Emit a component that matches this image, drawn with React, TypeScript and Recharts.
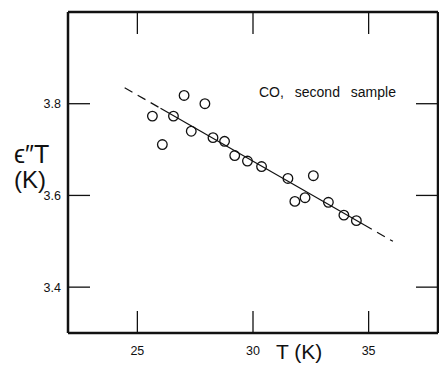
import React from "react"
import { ScatterChart, Scatter, XAxis, YAxis } from "recharts"

// measured points (T in K, eps''T in K)
const tempK = [25.65, 26.08, 26.56, 27.02, 27.33, 27.92, 28.27, 28.77, 29.21, 29.76, 30.37, 31.51, 31.81, 32.25, 32.61, 33.26, 33.93, 34.47]
const epsT = [3.773, 3.711, 3.773, 3.818, 3.74, 3.8, 3.726, 3.718, 3.687, 3.675, 3.663, 3.637, 3.587, 3.595, 3.643, 3.585, 3.557, 3.545]

// fitted straight line: dashed / solid / dashed
const fitT = [24.45, 26.0, 34.8, 36.05]
const fitY = [3.835, 3.79, 3.536, 3.5]

const xTicks = [25, 30, 35]
const yTicks = [3.4, 3.6, 3.8]
const xDomain = [22, 38]
const yDomain = [3.3, 4.0]

const points = tempK.map((t, i) => ({ t, v: epsT[i] }))
const seg = (a: number, b: number) => [
  { t: fitT[a], v: fitY[a] },
  { t: fitT[b], v: fitY[b] },
]

const INK = "#111"
const FONT = "'Liberation Sans', Arial, sans-serif"
const TICK = 22

function BottomTick({ x, y, payload }: any) {
  return (
    <g>
      <line x1={x} y1={y} x2={x} y2={y - TICK} stroke={INK} strokeWidth={1.3} />
      <text x={x} y={y + 22} textAnchor="middle" fontSize={12.5} fontFamily={FONT} fill={INK}>
        {payload.value}
      </text>
    </g>
  )
}

function TopTick({ x, y }: any) {
  return <line x1={x} y1={y} x2={x} y2={y + TICK} stroke={INK} strokeWidth={1.3} />
}

function LeftTick({ x, y, payload }: any) {
  return (
    <g>
      <line x1={x} y1={y} x2={x + TICK} y2={y} stroke={INK} strokeWidth={1.3} />
      <text x={x - 7} y={y + 4.5} textAnchor="end" fontSize={12.5} fontFamily={FONT} fill={INK}>
        {payload.value.toFixed(1)}
      </text>
    </g>
  )
}

function RightTick({ x, y }: any) {
  return <line x1={x} y1={y} x2={x - TICK} y2={y} stroke={INK} strokeWidth={1.3} />
}

function OpenCircle({ cx, cy }: any) {
  return <circle cx={cx} cy={cy} r={4.8} fill="none" stroke={INK} strokeWidth={1.3} />
}

const NoMark = () => <g />

export default function App() {
  return (
    <div style={{ position: "absolute", left: 0, top: 0, width: 439, height: 366, background: "#fff" }}>
      <ScatterChart width={439} height={366} margin={{ top: 11, right: 0, bottom: 0, left: 0 }}>
        <XAxis
          xAxisId="b"
          dataKey="t"
          type="number"
          domain={xDomain}
          ticks={xTicks}
          height={33}
          tickSize={0}
          tickMargin={0}
          tickLine={false}
          tick={<BottomTick />}
          axisLine={{ stroke: INK, strokeWidth: 2.5 }}
        />
        <XAxis
          xAxisId="t"
          orientation="top"
          dataKey="t"
          type="number"
          domain={xDomain}
          ticks={xTicks}
          height={1}
          tickSize={0}
          tickMargin={0}
          tickLine={false}
          tick={<TopTick />}
          axisLine={{ stroke: INK, strokeWidth: 2.5 }}
        />
        <YAxis
          yAxisId="l"
          dataKey="v"
          type="number"
          domain={yDomain}
          ticks={yTicks}
          width={68}
          tickSize={0}
          tickMargin={0}
          tickLine={false}
          tick={<LeftTick />}
          axisLine={{ stroke: INK, strokeWidth: 2.5 }}
        />
        <YAxis
          yAxisId="r"
          orientation="right"
          dataKey="v"
          type="number"
          domain={yDomain}
          ticks={yTicks}
          width={1}
          tickSize={0}
          tickMargin={0}
          tickLine={false}
          tick={<RightTick />}
          axisLine={{ stroke: INK, strokeWidth: 2.5 }}
        />
        <Scatter xAxisId="t" yAxisId="r" data={points} shape={NoMark} isAnimationActive={false} />
        <Scatter
          xAxisId="b"
          yAxisId="l"
          data={seg(0, 1)}
          shape={NoMark}
          line={{ stroke: INK, strokeWidth: 1.2, strokeDasharray: "9 6" }}
          isAnimationActive={false}
        />
        <Scatter
          xAxisId="b"
          yAxisId="l"
          data={seg(1, 2)}
          shape={NoMark}
          line={{ stroke: INK, strokeWidth: 1.2 }}
          isAnimationActive={false}
        />
        <Scatter
          xAxisId="b"
          yAxisId="l"
          data={seg(2, 3)}
          shape={NoMark}
          line={{ stroke: INK, strokeWidth: 1.2, strokeDasharray: "9 6" }}
          isAnimationActive={false}
        />
        <Scatter xAxisId="b" yAxisId="l" data={points} shape={OpenCircle} isAnimationActive={false} />
      </ScatterChart>
      <svg
        width={439}
        height={366}
        style={{ position: "absolute", left: 0, top: 0, pointerEvents: "none" }}
      >
        <text x={259} y={97} fontSize={14} fontFamily={FONT} fill={INK} wordSpacing={7}>
          CO, second sample
        </text>
        <text x={276} y={359} fontSize={21} fontFamily={FONT} fontWeight={300} fill={INK}>
          T (K)
        </text>
        <text x={14} y={163} fontSize={25} fontFamily={FONT} fontWeight={300} fill={INK}>
          {"\u03f5\u2033T"}
        </text>
        <text x={14} y={188} fontSize={24} fontFamily={FONT} fontWeight={300} fill={INK}>
          (K)
        </text>
      </svg>
    </div>
  )
}
